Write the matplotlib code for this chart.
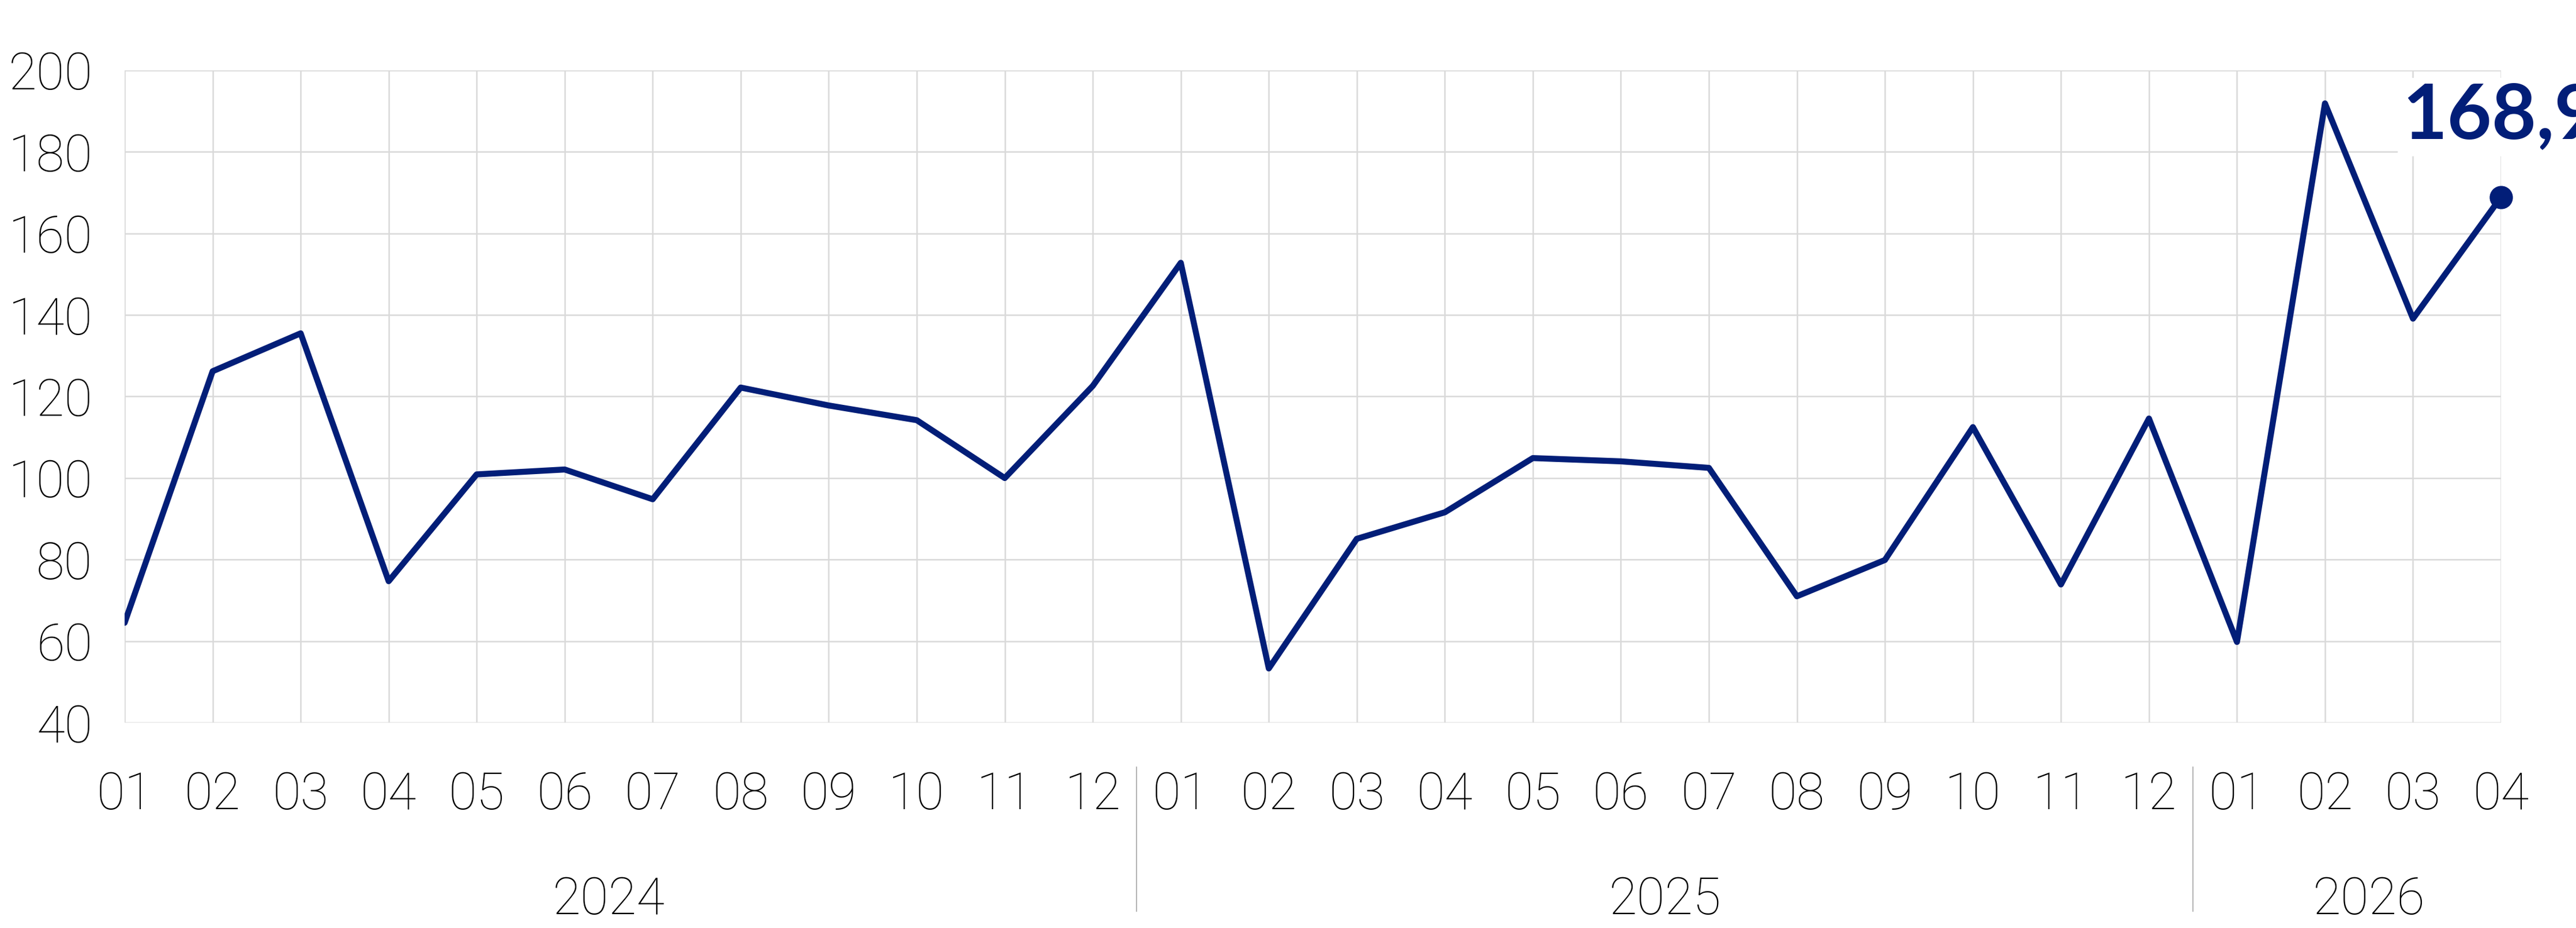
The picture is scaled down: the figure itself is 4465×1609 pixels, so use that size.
import matplotlib
matplotlib.use("Agg")
import matplotlib.pyplot as plt
import matplotlib.transforms as mtransforms

# datos mensuales
meses = ["01", "02", "03", "04", "05", "06", "07", "08", "09", "10", "11", "12",
         "01", "02", "03", "04", "05", "06", "07", "08", "09", "10", "11", "12",
         "01", "02", "03", "04"]
valores = [64.5, 126.2, 135.5, 74.7, 100.9, 102.1, 94.8, 122.2, 117.8, 114.2, 100.0, 122.6,
           152.8, 53.3, 85.1, 91.6, 104.9, 104.1, 102.5, 71.0, 79.9, 112.5, 73.9, 114.6,
           59.8, 191.9, 139.1, 168.9]
anios = ["2024", "2025", "2026"]
meses_por_anio = [12, 12, 4]
etiqueta_final = "168,9"

azul = "#021e78"
gris_grid = "#d9d9d9"

fig = plt.figure(figsize=(44.65, 16.09), dpi=100)
ax = fig.add_axes([216 / 4465, 356 / 1609, 4119 / 4465, 1131 / 1609])

x = list(range(len(valores)))
ax.plot(x, valores, color=azul, lw=7.5, solid_joinstyle="round", solid_capstyle="round", zorder=3)
ax.plot(x[-1], valores[-1], "o", color=azul, markersize=28, zorder=7, clip_on=False)

ax.set_xlim(0, len(valores) - 1)
ax.set_ylim(40, 200)
ax.set_yticks(range(40, 201, 20))
ax.set_xticks(x)
ax.set_xticklabels(meses)
ax.grid(True, color=gris_grid, lw=1.8, zorder=0)
for s in ax.spines.values():
    s.set_visible(False)

ax.tick_params(axis="both", length=0, labelsize=64, colors="black")
ax.tick_params(axis="y", pad=40)
ax.tick_params(axis="x", pad=60)
for lab in ax.get_xticklabels() + ax.get_yticklabels():
    lab.set_fontfamily("Roboto")
    lab.set_fontweight("light")

# años y separadores
trans = mtransforms.blended_transform_factory(ax.transData, ax.transAxes)
inicio = 0
for i, (anio, n) in enumerate(zip(anios, meses_por_anio)):
    centro = inicio + (n - 1) / 2
    ax.text(centro, -0.272, anio, transform=trans, ha="center", va="center",
            fontsize=64, fontfamily="Roboto", fontweight="light")
    if i < len(anios) - 1:
        sep = inicio + n - 0.5
        ax.plot([sep, sep], [-0.068, -0.289], transform=trans, color="#a6a6a6",
                lw=1.2, clip_on=False)
    inicio += n

# etiqueta del último valor
ax.text(25.88, 188.5, etiqueta_final, ha="left", va="center", fontsize=96,
        fontweight="bold", fontfamily="Lato", color=azul, zorder=5, clip_on=False,
        bbox=dict(facecolor="white", edgecolor="none", pad=6))

plt.savefig("out.png", dpi=100)
